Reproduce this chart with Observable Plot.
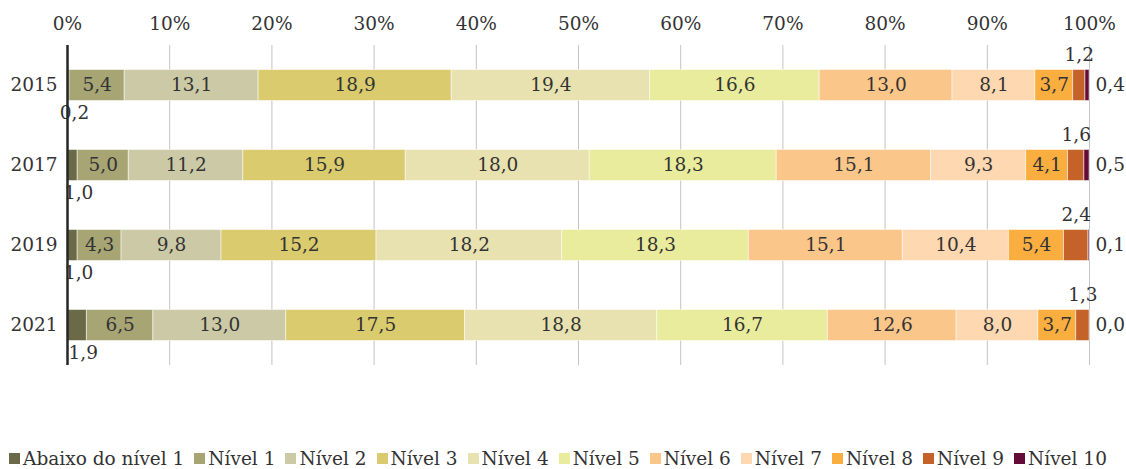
<!DOCTYPE html>
<html>
<head>
<meta charset="utf-8">
<script src="https://cdn.jsdelivr.net/npm/d3@7"></script>
<script src="https://cdn.jsdelivr.net/npm/@observablehq/plot@0.6"></script>
<style>
  html, body { margin: 0; padding: 0; background: #fff; overflow: hidden; }
  #chart { width: 1126px; }
  div.lg-swatches { justify-content: center; font-family: "DejaVu Serif", serif; font-size: 18.5px; color: #333; margin: 0; min-height: 22px; }
  div.lg-swatches span.lg-swatch { margin-right: 10px; }
  div.lg-swatches span.lg-swatch > svg { margin-right: 3px; }
</style>
</head>
<body>
<div id="chart"></div>
<script>
const years = ["2015", "2017", "2019", "2021"];
const levels = ["Abaixo do nível 1", "Nível 1", "Nível 2", "Nível 3", "Nível 4", "Nível 5", "Nível 6", "Nível 7", "Nível 8", "Nível 9", "Nível 10"];
const colors = ["#6b6a48", "#a7a574", "#cccaa6", "#d9cb6e", "#e8e2b0", "#e8ec9c", "#fbc68a", "#fed8b0", "#fbae40", "#c5622a", "#650b38"];
const values2015 = [0.2, 5.4, 13.1, 18.9, 19.4, 16.6, 13.0, 8.1, 3.7, 1.2, 0.4];
const values2017 = [1.0, 5.0, 11.2, 15.9, 18.0, 18.3, 15.1, 9.3, 4.1, 1.6, 0.5];
const values2019 = [1.0, 4.3, 9.8, 15.2, 18.2, 18.3, 15.1, 10.4, 5.4, 2.4, 0.1];
const values2021 = [1.9, 6.5, 13.0, 17.5, 18.8, 16.7, 12.6, 8.0, 3.7, 1.3, 0.0];
const xTicks = [0, 10, 20, 30, 40, 50, 60, 70, 80, 90, 100];

const series = [values2015, values2017, values2019, values2021];
const data = years.flatMap((year, i) => levels.map((level, j) => ({year, level, value: series[i][j]})));

const fmt = v => v.toFixed(1).replace(".", ",");
const inner = new Set(levels.slice(1, 9));
const font = "DejaVu Serif";
const txt = "#333";
const fs = 18.5;

const stackOpts = {x: "value", y: "year", z: "level", order: levels, offset: "normalize"};

const chart = Plot.plot({
  width: 1126,
  height: 447,
  marginTop: 45,
  marginBottom: 82,
  marginLeft: 67,
  marginRight: 37,
  style: {fontFamily: font, fontSize: fs + "px", color: txt, background: "#fff"},
  x: {domain: [0, 1], label: null},
  y: {domain: years, padding: 0, label: null},
  color: {domain: levels, range: colors},
  marks: [
    Plot.gridX(xTicks.map(t => t / 100), {stroke: "#c4c4c4", strokeOpacity: 1, strokeWidth: 1}),
    Plot.axisX(xTicks.map(t => t / 100), {anchor: "top", label: null, tickSize: 0, tickPadding: 16, tickFormat: d => Math.round(d * 100) + "%", fontSize: fs, fill: txt}),
    Plot.axisY({label: null, tickSize: 0, tickPadding: 10, fontSize: fs, fill: txt}),
    Plot.barX(data, Plot.stackX({...stackOpts, fill: "level", insetTop: 24.5, insetBottom: 24.5, stroke: "#fff", strokeOpacity: 0.5, strokeWidth: 1})),
    Plot.text(data, Plot.stackX({...stackOpts, text: d => inner.has(d.level) ? fmt(d.value) : "", fill: txt, fontSize: fs})),
    Plot.text(data, Plot.stackX({...stackOpts, text: d => d.level === levels[0] ? fmt(d.value) : "", fill: txt, fontSize: fs, dy: 28, dx: 6})),
    Plot.text(data, Plot.stackX({...stackOpts, text: d => d.level === levels[9] ? fmt(d.value) : "", fill: txt, fontSize: fs, dy: -30})),
    Plot.text(data, Plot.stackX2({...stackOpts, text: d => d.level === levels[10] ? fmt(d.value) : "", fill: txt, fontSize: fs, textAnchor: "start", dx: 6})),
    Plot.ruleX([0], {stroke: "#262626", strokeWidth: 2.5})
  ]
});

const legend = Plot.legend({
  color: {type: "ordinal", domain: levels, range: colors},
  legend: "swatches",
  swatchSize: 11,
  className: "lg"
});

const root = document.getElementById("chart");
root.appendChild(chart);
root.appendChild(legend);
</script>
</body>
</html>
